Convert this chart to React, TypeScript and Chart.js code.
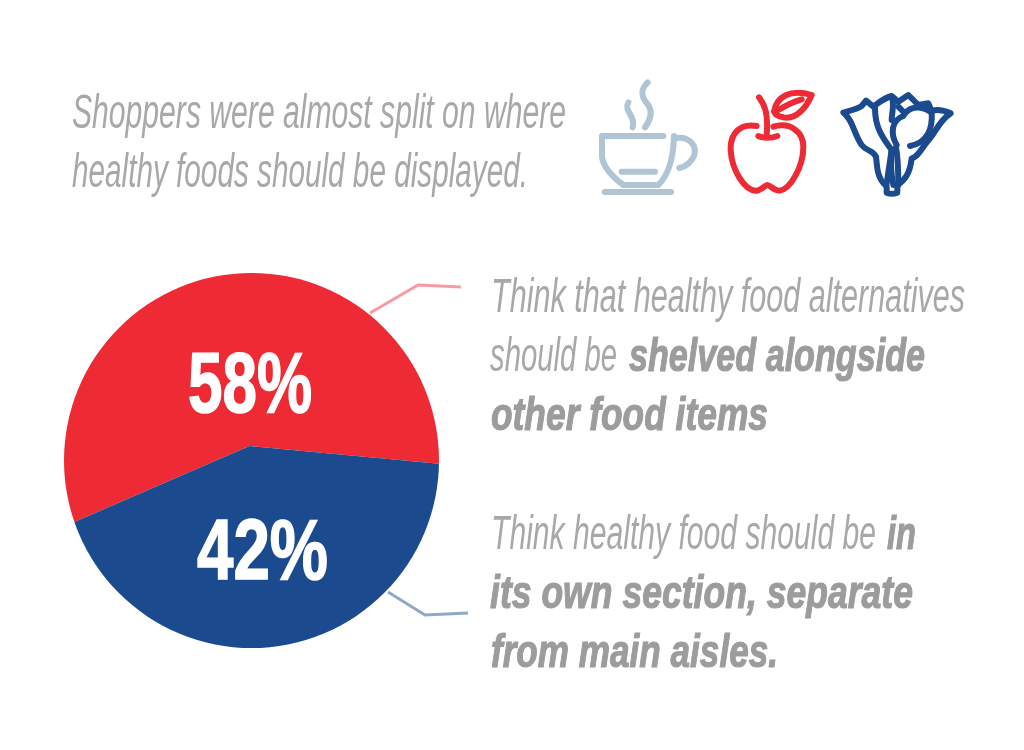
import React, { useEffect, useRef } from "react";
import { Chart, registerables } from "chart.js";

Chart.register(...registerables);

const categories = ["Shelved alongside other food items", "In its own section"];
const shares = [58, 42];
const sliceColors = ["#ee2a35", "#1b4b8e"];

const FONT = "'Liberation Sans Narrow', 'Liberation Sans', sans-serif";

type Seg = [string, number, number, number, boolean];
const textSegments: Seg[] = [
  ["Shoppers were almost split on where", 72, 494, 128, false],
  ["healthy foods should be displayed.", 72, 456, 187, false],
  ["Think that healthy food alternatives", 491, 474, 312, false],
  ["should be", 490, 127, 371, false],
  ["shelved alongside", 629, 296, 371, true],
  ["other food items", 491, 277, 430, true],
  ["Think healthy food should be", 491, 385, 549, false],
  ["in", 887, 29, 549, true],
  ["its own section, separate", 490, 423, 608, true],
  ["from main aisles.", 491, 287, 667, true],
];

const pctPositions: [number, number, number][] = [
  [188, 124, 412],
  [197, 131, 579],
];

const clipPlugin = {
  id: "roundClip",
  beforeDatasetsDraw(chart: any) {
    const c = chart.ctx;
    c.save();
    c.beginPath();
    c.arc(251.5, 460.5, 187.5, 0, Math.PI * 2);
    c.clip();
  },
  afterDatasetsDraw(chart: any) {
    chart.ctx.restore();
  },
};

export default function App() {
  const ref = useRef<HTMLCanvasElement>(null);
  useEffect(() => {
    const chart = new Chart(ref.current!, {
      type: "pie",
      data: {
        labels: categories,
        datasets: [
          {
            data: shares,
            backgroundColor: sliceColors,
            borderWidth: 0,
            radius: 260,
            clip: false,
          } as any,
        ],
      },
      options: {
        animation: false,
        responsive: false,
        rotation: 246.53,
        layout: { padding: { left: 0, right: 525, top: 142, bottom: 0 } },
        plugins: { legend: { display: false }, tooltip: { enabled: false } },
      },
      plugins: [clipPlugin],
    });
    return () => chart.destroy();
  }, []);

  return (
    <div style={{ position: "absolute", left: 0, top: 0, width: 1024, height: 750, background: "#fff", overflow: "hidden" }}>
      <canvas ref={ref} width={1024} height={750} style={{ position: "absolute", left: 0, top: 0, display: "block" }} />
      <svg width={1024} height={750} style={{ position: "absolute", left: 0, top: 0 }}>
        <polyline points="370,313 418,285 461,287" fill="none" stroke="#f79aa2" strokeWidth={3} />
        <polyline points="388,592 425,615 468,613" fill="none" stroke="#8fa8c8" strokeWidth={3} />

        {textSegments.map(([t, x, w, y, bold], i) => (
          <text
            key={i}
            x={x}
            y={y}
            textLength={w}
            lengthAdjust="spacingAndGlyphs"
            fontFamily={FONT}
            fontStyle="italic"
            fontWeight={bold ? 700 : 400}
            fontSize={bold ? 47 : 49}
            fill={bold ? "#9c9c9c" : "#a8a8a8"}
            stroke={bold ? "#9c9c9c" : "none"}
            strokeWidth={bold ? 1.2 : 0}
          >
            {t}
          </text>
        ))}

        {shares.map((v, i) => (
          <text
            key={v}
            x={pctPositions[i][0]}
            y={pctPositions[i][2]}
            textLength={pctPositions[i][1]}
            lengthAdjust="spacingAndGlyphs"
            fontFamily={FONT}
            fontWeight={700}
            fontSize={86}
            fill="#fff"
            stroke="#fff"
            strokeWidth={1.6}
          >
            {v}%
          </text>
        ))}

        <g transform="translate(590 70) scale(0.33333)" fill="none" strokeWidth={18} strokeLinecap="round" strokeLinejoin="round">
          <g stroke="#afc4d4">
            <path d="M115 97 C100 125 138 135 128 172" />
            <path d="M173 37 C150 60 152 80 175 105 C190 130 178 155 165 172" />
            <path d="M220 198 H36 V260 Q40 300 100 345 H205 Q250 300 252 198" />
            <path d="M252 205 C300 195 322 230 312 258 C302 280 285 290 268 294" />
            <path d="M95 305 H195" />
            <path d="M44 366 H243" />
          </g>
          <g stroke="#ee2a35">
            <path d="M500 168 C450 160 420 190 422 240 C425 300 465 365 500 362 C515 360 525 345 532 345 C540 345 550 362 568 362 C600 360 640 290 640 230 C640 185 600 155 550 170" />
            <path d="M505 198 C520 205 545 205 562 198" />
            <path d="M507 82 C525 105 535 130 530 195" />
            <path d="M552 125 C560 80 600 55 665 75 C650 110 620 150 580 142 C565 140 555 132 552 125 Z" />
            <path d="M565 120 C590 105 610 95 635 88" />
          </g>
          <g stroke="#1b4b8e">
            <path d="M760 128 C790 150 790 190 815 225 C830 245 850 240 858 260 C862 290 860 320 885 345 L890 348 V368 Q905 375 922 368 V345 C945 330 960 310 965 265 C985 260 990 240 1020 205 C1040 180 1050 150 1082 130 C1060 120 1040 118 1025 123 L1015 100 L985 105 L955 75 L925 95 L905 78 C880 85 870 95 850 110 L828 92 L815 108 C800 118 780 122 760 128 Z" />
            <path d="M855 115 C855 170 875 200 905 240 L890 340" />
            <path d="M905 240 C900 280 905 320 910 345" />
            <path d="M918 232 C925 270 925 310 925 345" />
            <path d="M940 138 C905 150 900 190 920 225" />
            <path d="M960 228 C1000 220 1030 190 1025 125" />
            <path d="M925 110 L945 130 C965 105 1000 110 1020 125" />
            <path d="M905 80 C915 100 905 130 905 150" />
          </g>
        </g>
      </svg>
    </div>
  );
}
